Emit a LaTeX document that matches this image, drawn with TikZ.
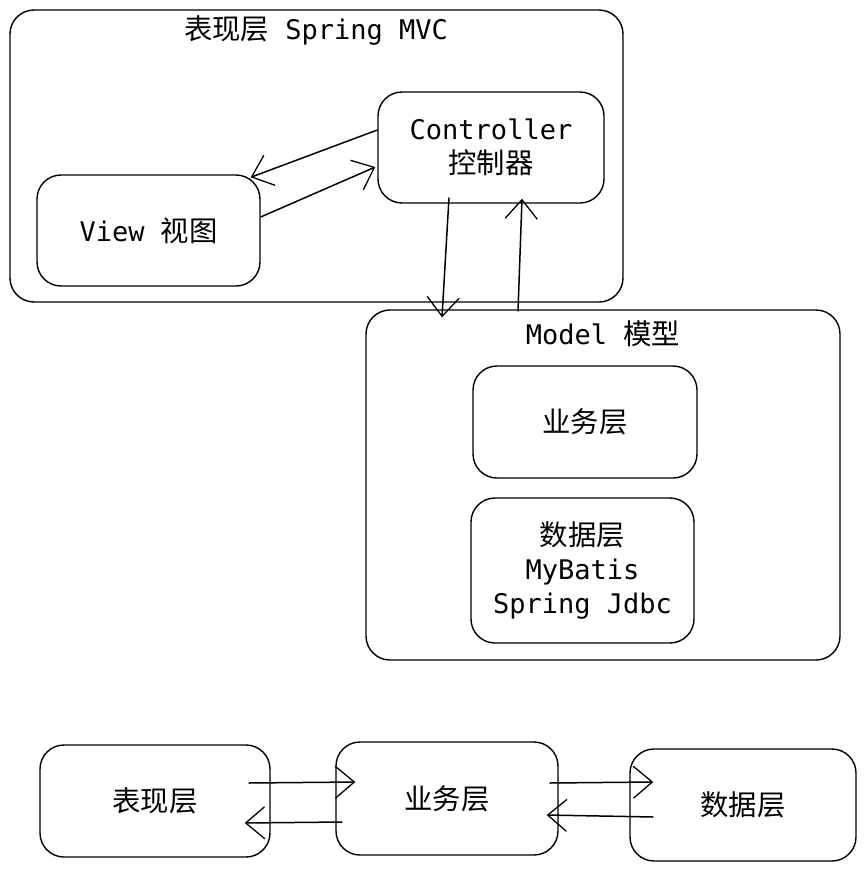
\documentclass[tikz,border=0pt]{standalone}
\usepackage{fontspec}
\setmonofont{DejaVu Sans Mono}
\newfontfamily\cjk[Scale=1.05]{Noto Sans CJK SC}
\usetikzlibrary{arrows.meta,calc}
\begin{document}
\begin{tikzpicture}[x=1pt,y=-1pt,
  box/.style={draw=black,line width=1.4pt,rounded corners=24pt,inner sep=0pt,align=center,
    font=\fontsize{27}{34}\selectfont},
  lbl/.style={inner sep=0pt,align=center,font=\fontsize{27}{34}\selectfont},
  arr/.style={draw=black,line width=1.5pt,-{Straight Barb[length=19pt,width=32pt,line width=1.3pt]}}]
\fill[white] (0,0) rectangle (864,871);
\useasboundingbox (0,0) rectangle (864,871);
% top group
\node[box,minimum width=613pt,minimum height=292pt] (mvc) at (316.5,156) {};
\node[lbl] (mvct) at (316,30) {\cjk 表现层\ttfamily\ Spring MVC};
\node[box,minimum width=226pt,minimum height=111pt] (ctrl) at (491,147.5) {\ttfamily Controller\\\cjk 控制器};
\node[box,minimum width=223pt,minimum height=111pt] (view) at (148.5,230.5) {\ttfamily View\ \cjk 视图};
% model
\node[box,minimum width=474pt,minimum height=350pt] (model) at (603,485) {};
\node[lbl] (modelt) at (603,334) {\ttfamily Model\ \cjk 模型};
\node[box,minimum width=224pt,minimum height=112pt] (biz) at (585,422) {\cjk 业务层};
\node[box,minimum width=223pt,minimum height=145pt] (data) at (582.5,570.5) {\cjk 数据层\\\ttfamily MyBatis\\\ttfamily Spring Jdbc};
% arrows top
\draw[arr] ($(ctrl.west)+(0,-17.5)$) -- ($(view.north east)+(-10,3)$);
\draw[arr] ($(view.east)+(0,-13.5)$) -- ($(ctrl.west)+(-2,19.5)$);
\draw[arr] ($(ctrl.south)+(-42,-6)$) -- ($(model.north)+(-161,8)$);
\draw[arr] ($(model.north)+(-85,2)$) -- ($(ctrl.south)+(31,-5)$);
% bottom
\node[box,minimum width=230pt,minimum height=112pt] (bpres) at (155,801) {\cjk 表现层};
\node[box,minimum width=222pt,minimum height=113pt] (bbiz) at (447,798.5) {\cjk 业务层};
\node[box,minimum width=226pt,minimum height=112pt] (bdata) at (743,805) {\cjk 数据层};
\draw[arr] ($(bpres.east)+(-22,-18)$) -- ($(bbiz.west)+(20,-16.5)$);
\draw[arr] ($(bbiz.west)+(7,23.5)$) -- ($(bpres.east)+(-26,22)$);
\draw[arr] ($(bbiz.east)+(-9,-15.5)$) -- ($(bdata.west)+(24,-23)$);
\draw[arr] ($(bdata.west)+(24,12)$) -- ($(bbiz.east)+(-12,16.5)$);
\end{tikzpicture}
\end{document}
